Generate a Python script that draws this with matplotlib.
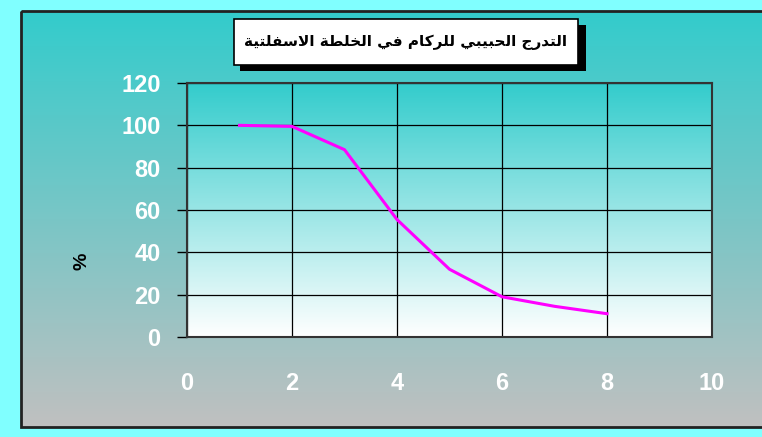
import numpy as np
import matplotlib
matplotlib.use("Agg")
import matplotlib.pyplot as plt
from matplotlib.patches import Rectangle

# data
x_vals = [1, 2, 3, 4, 5, 6, 7, 8]
passing = [100, 99.5, 88.5, 55.5, 32, 19, 14.5, 11]
x_ticks = [0, 2, 4, 6, 8, 10]
y_ticks = [0, 20, 40, 60, 80, 100, 120]
title = "التدرج الحبيبي للركام في الخلطة الاسفلتية"
y_label = "%"

W, H = 762, 437

# minimal arabic shaping (matplotlib has no complex text layout)
FORMS = {  # isolated, final, initial, medial
    "ا": ("\uFE8D", "\uFE8E", None, None),
    "ب": ("\uFE8F", "\uFE90", "\uFE91", "\uFE92"),
    "ة": ("\uFE93", "\uFE94", None, None),
    "ت": ("\uFE95", "\uFE96", "\uFE97", "\uFE98"),
    "ج": ("\uFE9D", "\uFE9E", "\uFE9F", "\uFEA0"),
    "ح": ("\uFEA1", "\uFEA2", "\uFEA3", "\uFEA4"),
    "خ": ("\uFEA5", "\uFEA6", "\uFEA7", "\uFEA8"),
    "د": ("\uFEA9", "\uFEAA", None, None),
    "ر": ("\uFEAD", "\uFEAE", None, None),
    "س": ("\uFEB1", "\uFEB2", "\uFEB3", "\uFEB4"),
    "ط": ("\uFEC1", "\uFEC2", "\uFEC3", "\uFEC4"),
    "ف": ("\uFED1", "\uFED2", "\uFED3", "\uFED4"),
    "ك": ("\uFED9", "\uFEDA", "\uFEDB", "\uFEDC"),
    "ل": ("\uFEDD", "\uFEDE", "\uFEDF", "\uFEE0"),
    "م": ("\uFEE1", "\uFEE2", "\uFEE3", "\uFEE4"),
    "ي": ("\uFEF1", "\uFEF2", "\uFEF3", "\uFEF4"),
    "لا": ("\uFEFB", "\uFEFC", None, None),
}


def shape_word(word):
    # merge lam-alef
    units = []
    i = 0
    while i < len(word):
        if word[i] == "ل" and i + 1 < len(word) and word[i + 1] == "ا":
            units.append("لا")
            i += 2
        else:
            units.append(word[i])
            i += 1
    out = []
    for k, u in enumerate(units):
        prev_joins = k > 0 and FORMS[units[k - 1]][2] is not None
        next_exists = k + 1 < len(units)
        can_join_next = FORMS[u][2] is not None and next_exists
        iso, fin, ini, med = FORMS[u]
        if prev_joins and can_join_next:
            out.append(med)
        elif prev_joins:
            out.append(fin)
        elif can_join_next:
            out.append(ini)
        else:
            out.append(iso)
    return "".join(reversed(out))


def shape(text):
    return " ".join(shape_word(w) for w in reversed(text.split(" ")))


fig = plt.figure(figsize=(W / 100, H / 100), dpi=100)
fig.patch.set_facecolor("#80FFFF")

# background panel in pixel coords
bg = fig.add_axes([0, 0, 1, 1])
bg.set_xlim(0, W)
bg.set_ylim(H, 0)
bg.axis("off")
grad = np.linspace(0, 1, 256)[:, None]
c_top = np.array([0x33, 0xCC, 0xCC]) / 255
c_bot = np.array([0xC0, 0xC0, 0xC0]) / 255
panel = c_top[None, None, :] * (1 - grad[..., None]) + c_bot[None, None, :] * grad[..., None]
bg.imshow(panel, extent=[21, W + 5, 427, 11], aspect="auto", zorder=0)
bg.add_patch(Rectangle((21, 11), W, 416, fill=False, ec="#222222", lw=2, zorder=1))

# title box with shadow
bg.add_patch(Rectangle((240, 25), 346, 46, fc="black", ec="none", zorder=2))
bg.add_patch(Rectangle((234, 19), 344, 46, fc="white", ec="black", lw=1.2, zorder=3))
bg.text(406, 42, shape(title), ha="center", va="center", fontsize=11,
        fontweight="bold", family="DejaVu Sans", zorder=4)

# main plot
ax = fig.add_axes([187 / W, 1 - 337 / H, (712 - 187) / W, (337 - 83) / H])
c_wh = np.array([1.0, 1.0, 1.0])
inner = c_top[None, None, :] * (1 - grad[..., None]) + c_wh[None, None, :] * grad[..., None]
ax.imshow(inner, extent=[0, 10, 0, 120], aspect="auto", zorder=0)
ax.set_xlim(0, 10)
ax.set_ylim(0, 120)
ax.set_xticks(x_ticks)
ax.set_yticks(y_ticks)
ax.grid(True, color="black", lw=0.9, zorder=1)
ax.plot(x_vals, passing, color="#FF00FF", lw=2.2, zorder=3)
for s in ax.spines.values():
    s.set_color("#333333")
    s.set_linewidth(1.5)
ax.tick_params(axis="y", length=7, width=1, direction="out", pad=12,
               labelsize=17, labelcolor="white")
ax.tick_params(axis="x", length=0, pad=25, labelsize=17, labelcolor="white")
for lab in ax.get_xticklabels() + ax.get_yticklabels():
    lab.set_fontweight("bold")
    lab.set_family("Liberation Sans")

fig.text(82 / W, 1 - 261 / H, y_label, rotation=90, ha="center", va="center",
         fontsize=14, fontweight="bold", family="Liberation Sans")

fig.savefig("out.png", dpi=100)
